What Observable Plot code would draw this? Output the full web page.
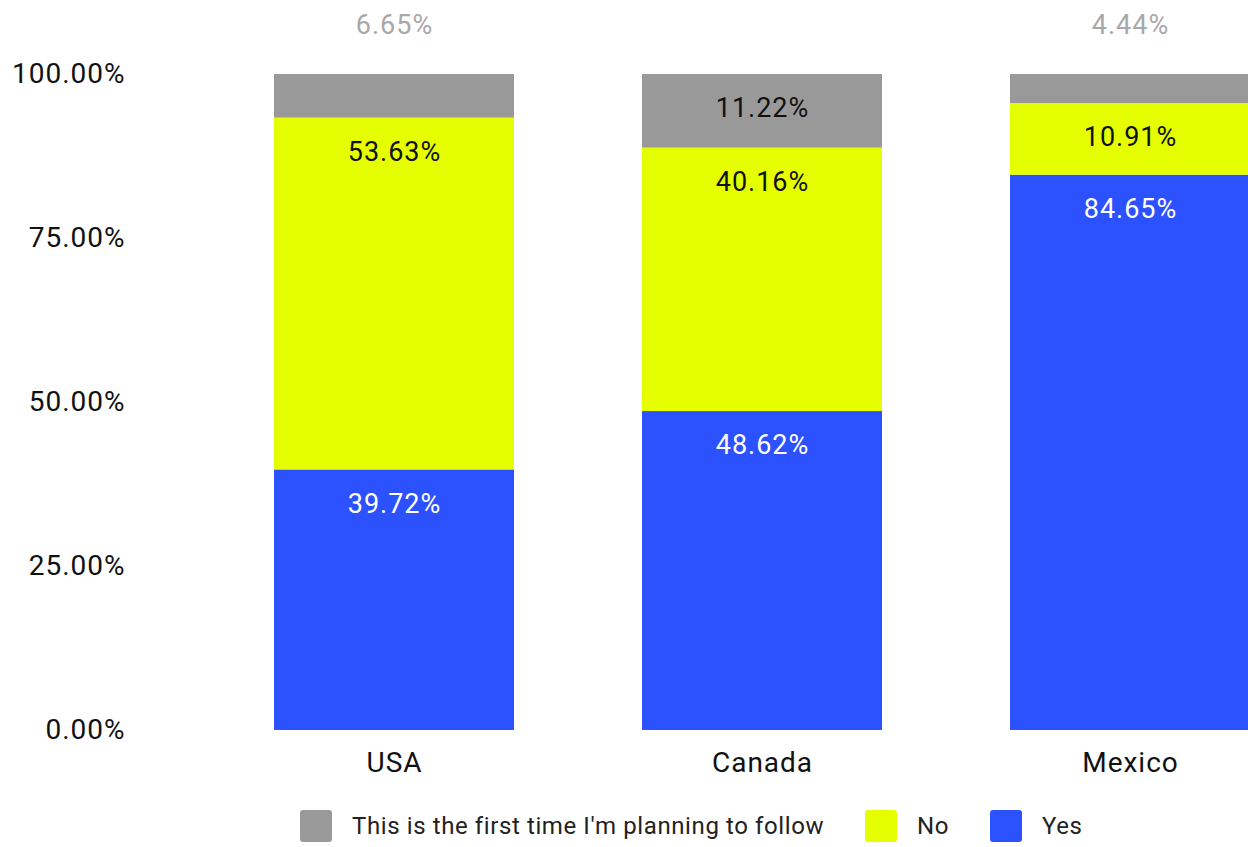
<!DOCTYPE html>
<html>
<head>
<meta charset="utf-8">
<script src="https://cdn.jsdelivr.net/npm/d3@7"></script>
<script src="https://cdn.jsdelivr.net/npm/@observablehq/plot@0.6"></script>
<style>
  html, body { margin: 0; padding: 0; background: #fff; overflow: hidden; }
  #chart svg text { letter-spacing: 1px; }
  #legend { position: relative; height: 47px; font-family: Roboto, sans-serif; font-size: 24px; letter-spacing: 0.6px; color: #222; }
  #legend .item { position: absolute; top: 5px; height: 42px; display: flex; align-items: center; }
  #legend .sw { width: 32px; height: 32px; border-radius: 3px; margin-right: 20px; }
</style>
</head>
<body>
<div id="chart"></div>
<div id="legend"></div>
<script>
const countries = ["USA", "Canada", "Mexico"];
const series = ["Yes", "No", "This is the first time I'm planning to follow"];
const colors = ["#2c51ff", "#e5ff00", "#999999"];
const yesValues = [39.72, 48.62, 84.65];
const noValues = [53.63, 40.16, 10.91];
const firstValues = [6.65, 11.22, 4.44];
const yTicks = [0, 25, 50, 75, 100];
const legendOrder = ["This is the first time I'm planning to follow", "No", "Yes"];

const rows = countries.flatMap((c, i) => [
  {country: c, series: series[0], value: yesValues[i]},
  {country: c, series: series[1], value: noValues[i]},
  {country: c, series: series[2], value: firstValues[i]}
]);

const fmt = d => d.toFixed(2) + "%";
const base = {x: "country", y: "value", z: "series", order: series, text: d => fmt(d.value)};

const chart = Plot.plot({
  width: 1248,
  height: 800,
  marginTop: 74,
  marginBottom: 70,
  marginLeft: 135,
  marginRight: 0,
  style: {fontFamily: "Roboto, sans-serif", background: "#fff"},
  x: {domain: countries, range: [145, 1378], padding: 0.348, label: null},
  y: {domain: [0, 100], label: null},
  color: {domain: series, range: colors},
  marks: [
    Plot.barY(rows, {x: "country", y: "value", fill: "series", order: series}),
    Plot.text(rows, Plot.filter(d => d.series === "Yes", Plot.stackY2({...base, fill: "white", dy: 34, fontSize: 27}))),
    Plot.text(rows, Plot.filter(d => d.series === "No", Plot.stackY2({...base, fill: "#111", dy: 34, fontSize: 27}))),
    Plot.text(rows, Plot.filter(d => d.series === series[2] && d.value >= 8, Plot.stackY2({...base, fill: "#111", dy: 34, fontSize: 27}))),
    Plot.text(rows, Plot.filter(d => d.series === series[2] && d.value < 8, Plot.stackY2({...base, fill: "#a8a8a8", dy: -49, fontSize: 27}))),
    Plot.axisY({ticks: yTicks, tickFormat: fmt, tickSize: 0, tickPadding: 10, fontSize: 28, fill: "#111", label: null}),
    Plot.axisX({tickSize: 0, tickPadding: 22, fontSize: 28, fill: "#111", label: null})
  ]
});
document.getElementById("chart").appendChild(chart);

const legendPos = [300, 865, 990];
const legend = document.getElementById("legend");
legendOrder.forEach((s, i) => {
  const item = document.createElement("div");
  item.className = "item";
  item.style.left = legendPos[i] + "px";
  const sw = document.createElement("div");
  sw.className = "sw";
  sw.style.background = colors[series.indexOf(s)];
  const label = document.createElement("span");
  label.textContent = s;
  item.appendChild(sw);
  item.appendChild(label);
  legend.appendChild(item);
});
</script>
</body>
</html>
